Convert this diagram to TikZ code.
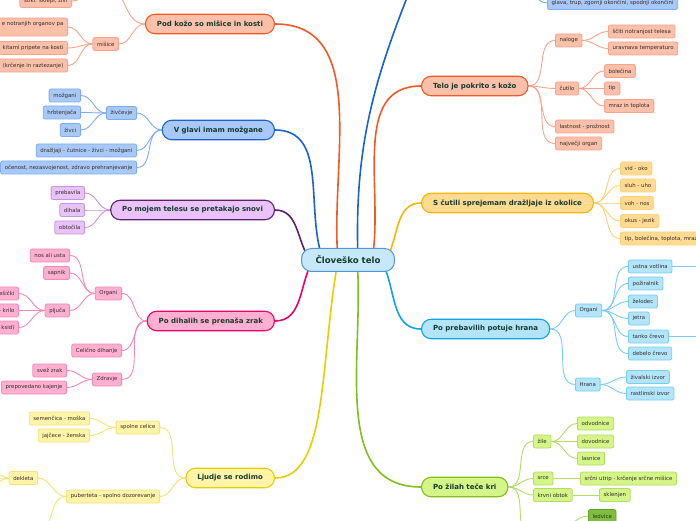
\documentclass[tikz,border=0pt]{standalone}
\usepackage{fontspec}
\setmainfont{DejaVu Sans}
\usepackage{tikz}
\usetikzlibrary{calc}
\pgfdeclarelayer{bg}
\pgfsetlayers{bg,main}
\definecolor{hubfill}{RGB}{198,232,250}
\definecolor{hubline}{RGB}{80,150,210}
\definecolor{txtdark}{RGB}{22,58,45}
\definecolor{txtgray}{RGB}{52,44,40}
\definecolor{orA}{RGB}{241,90,36}
\definecolor{orB}{RGB}{250,192,170}
\definecolor{orC}{RGB}{246,165,140}
\definecolor{blA}{RGB}{26,98,212}
\definecolor{blB}{RGB}{168,201,247}
\definecolor{blC}{RGB}{125,173,240}
\definecolor{puA}{RGB}{96,30,112}
\definecolor{puB}{RGB}{232,194,248}
\definecolor{puC}{RGB}{196,150,218}
\definecolor{pkA}{RGB}{236,0,104}
\definecolor{pkB}{RGB}{255,176,208}
\definecolor{pkC}{RGB}{245,135,185}
\definecolor{yeA}{RGB}{232,206,0}
\definecolor{yeB}{RGB}{255,244,168}
\definecolor{yeC}{RGB}{244,226,120}
\definecolor{amA}{RGB}{248,182,0}
\definecolor{amB}{RGB}{255,218,145}
\definecolor{amC}{RGB}{255,208,120}
\definecolor{cyA}{RGB}{18,162,230}
\definecolor{cyB}{RGB}{178,229,250}
\definecolor{cyC}{RGB}{120,205,244}
\definecolor{grA}{RGB}{130,190,30}
\definecolor{grB}{RGB}{212,245,135}
\definecolor{grC}{RGB}{180,220,100}
\definecolor{grD}{RGB}{125,190,60}
\definecolor{grE}{RGB}{100,165,40}

\begin{document}
\begin{tikzpicture}[
    x = 1pt, y = 1pt,
    hub/.style = {draw = hubline, fill = hubfill, line width = 1pt, rounded corners = 10pt, minimum height = 23pt, inner xsep = 14pt, text = txtdark, font = \bfseries\fontsize{8.6}{10}\selectfont},
    topic/.style = {draw = #1A, fill = #1B, line width = 1.1pt, rounded corners = 9.5pt, minimum height = 19.5pt, inner xsep = 11.5pt, text = txtdark, font = \bfseries\fontsize{7}{8}\selectfont},
    leaf/.style = {draw = #1C, fill = #1B, line width = 0.8pt, rounded corners = 2pt, minimum height = 13pt, inner xsep = 4.2pt, inner ysep = 1pt, text = txtgray, font = \fontsize{5.4}{6.5}\selectfont},
    trunk/.style = {draw = #1A, line width = 1.6pt},
    twig/.style = {draw = #1C, line width = 0.9pt},
]
\useasboundingbox (0,0) rectangle (696,520);
\clip (0,0) rectangle (696,520);

% center and main topics
\node[hub] (telo) at (348,260) {Človeško telo};
\node[topic=or, anchor=east] (podkozo) at (275,496) {Pod kožo so mišice in kosti};
\node[topic=bl, anchor=east] (glava) at (275,390) {V glavi imam možgane};
\node[topic=pu, anchor=east] (snovi) at (275,310) {Po mojem telesu se pretakajo snovi};
\node[topic=pk, anchor=east] (dihala) at (275,199) {Po dihalih se prenaša zrak};
\node[topic=ye, anchor=east] (rodimo) at (275,42) {Ljudje se rodimo};
\node[topic=or, anchor=west] (koza) at (421,434) {Telo je pokrito s kožo};
\node[topic=am, anchor=west] (cutila) at (421,317) {S čutili sprejemam dražljaje iz okolice};
\node[topic=cy, anchor=west] (prebava) at (421,191) {Po prebavilih potuje hrana};
\node[topic=gr, anchor=west] (kri) at (421,33) {Po žilah teče kri};
\coordinate (telesa) at (416,545);

% Pod kozo
\coordinate (kosti) at (104,536);
\node[leaf=or, anchor=east] (stiki) at (72,519) {stiki: sklepi, živi};
\node[leaf=or, anchor=east] (misice) at (119,476) {mišice};
\node[leaf=or, anchor=east, align=center, minimum height=18pt] (varuje) at (68,493) {e notranjih organov pa\\\mbox{}};
\node[leaf=or, anchor=east] (kite) at (68,472) {kitami pripete na kosti};
\node[leaf=or, anchor=east] (krcenje) at (68,454.5) {(krčenje in raztezanje)};

% V glavi
\node[leaf=bl, anchor=east] (zivcevje) at (137,407) {živčevje};
\node[leaf=bl, anchor=east] (drazljaji) at (137,369.5) {dražljaji - čutnice - živci - možgani};
\node[leaf=bl, anchor=east] (zdravo) at (137,352.5) {očenost, nezasvojenost, zdravo prehranjevanje};
\node[leaf=bl, anchor=east] (mozgani) at (81,424.5) {možgani};
\node[leaf=bl, anchor=east] (hrbtenjaca) at (81,407.5) {hrbtenjača};
\node[leaf=bl, anchor=east] (zivci) at (81,390) {živci};

% snovi
\node[leaf=pu, anchor=east] (prebavila) at (85,327) {prebavila};
\node[leaf=pu, anchor=east] (dihalaS) at (85,310) {dihala};
\node[leaf=pu, anchor=east] (obtocila) at (85,292.5) {obtočila};

% dihala
\node[leaf=pk, anchor=east] (organiD) at (122,226.5) {Organi};
\node[leaf=pk, anchor=east] (celicno) at (122,169.5) {Celično dihanje};
\node[leaf=pk, anchor=east] (zdravje) at (122,140.5) {Zdravje};
\node[leaf=pk, anchor=east] (nos) at (70,264.5) {nos ali usta};
\node[leaf=pk, anchor=east] (sapnik) at (70,247) {sapnik};
\node[leaf=pk, anchor=east] (pljuca) at (70,209.5) {pljuča};
\node[leaf=pk, anchor=east] (mehurcki) at (19,226.5) {ešički};
\node[leaf=pk, anchor=east] (krilo) at (19,209.5) {- krilo};
\node[leaf=pk, anchor=east] (dioksid) at (19,192.5) {ksid)};
\node[leaf=pk, anchor=east] (svez) at (67,149.5) {svež zrak};
\node[leaf=pk, anchor=east] (kajenje) at (67,132.5) {prepovedano kajenje};

% rodimo
\node[leaf=ye, anchor=east] (spolne) at (160,92.5) {spolne celice};
\node[leaf=ye, anchor=east] (puberteta) at (160,23.5) {puberteta - spolno dozorevanje};
\node[leaf=ye, anchor=east] (semencica) at (90,101.5) {semenčica - moška};
\node[leaf=ye, anchor=east] (jajcece) at (90,84.5) {jajčece - ženska};
\node[leaf=ye, anchor=east] (dekleta) at (38,42) {dekleta};
\coordinate (fantje) at (36,-14);
\coordinate (dek1) at (-6,47);
\coordinate (dek2) at (-6,42);
\coordinate (dek3) at (-6,37);

% koza
\node[leaf=or, anchor=west] (naloge) at (555,479.5) {naloge};
\node[leaf=or, anchor=west] (cutilo) at (555,431.5) {čutilo};
\node[leaf=or, anchor=west] (lastnost) at (555,393.5) {lastnost - prožnost};
\node[leaf=or, anchor=west] (najvecji) at (555,376.5) {največji organ};
\node[leaf=or, anchor=west] (sciti) at (608,488.5) {ščiti notranjost telesa};
\node[leaf=or, anchor=west] (uravnava) at (608,471.5) {uravnava temperaturo};
\node[leaf=or, anchor=west] (bolecina) at (604,449) {bolečina};
\node[leaf=or, anchor=west] (tip) at (604,431.5) {tip};
\node[leaf=or, anchor=west] (mraz) at (604,414) {mraz in toplota};

% top blue branch
\coordinate (deli) at (522,532);
\node[leaf=bl, anchor=west] (okoncine) at (547,517) {glava, trup, zgornji okončini, spodnji okončini};

% cutila
\node[leaf=am, anchor=west] (vid) at (620,351.5) {vid - oko};
\node[leaf=am, anchor=west] (sluh) at (620,334.5) {sluh - uho};
\node[leaf=am, anchor=west] (voh) at (620,317) {voh - nos};
\node[leaf=am, anchor=west] (okus) at (620,299) {okus - jezik};
\node[leaf=am, anchor=west] (otip) at (620,281.5) {tip, bolečina, toplota, mraz};

% prebava
\node[leaf=cy, anchor=west] (organiP) at (575,209.5) {Organi};
\node[leaf=cy, anchor=west] (hrana) at (575,135.5) {Hrana};
\node[leaf=cy, anchor=west] (ustna) at (628,253.5) {ustna votlina};
\node[leaf=cy, anchor=west] (poziralnik) at (628,236.5) {požiralnik};
\node[leaf=cy, anchor=west] (zelodec) at (628,218.5) {želodec};
\node[leaf=cy, anchor=west] (jetra) at (628,201.5) {jetra};
\node[leaf=cy, anchor=west] (tanko) at (628,183.5) {tanko črevo};
\node[leaf=cy, anchor=west] (debelo) at (628,166.5) {debelo črevo};
\node[leaf=cy, anchor=west] (zivalski) at (626,143) {živalski izvor};
\node[leaf=cy, anchor=west] (rastlinski) at (626,126.5) {rastlinski izvor};
\coordinate (zobje) at (702,253.5);
\coordinate (resice) at (702,183.5);

% kri
\node[leaf=gr, anchor=west] (zile) at (533,78.5) {žile};
\node[leaf=gr, anchor=west] (srce) at (533,41.5) {srce};
\node[leaf=gr, anchor=west] (krvni) at (533,25) {krvni obtok};
\node[leaf=gr, anchor=west] (odvodnice) at (577,96.5) {odvodnice};
\node[leaf=gr, anchor=west] (dovodnice) at (577,78.5) {dovodnice};
\node[leaf=gr, anchor=west] (lasnice) at (577,61.5) {lasnice};
\node[leaf=gr, anchor=west] (utrip) at (580,41.5) {srčni utrip - krčenje srčne mišice};
\node[leaf=gr, anchor=west] (sklenjen) at (599,25) {sklenjen};
\node[leaf=gr, anchor=west, fill=grD, draw=grE] (ledvice) at (588,4) {ledvice};
\coordinate (izlocala) at (532,-16);
\coordinate (ledviceP) at (560,-8);

\begin{pgfonlayer}{bg}
\fill[white] (0,0) rectangle (696,520);
% trunks
\draw[trunk=or] ([xshift=-10pt]telo.center) to[out=95,in=0] (podkozo.east);
\draw[trunk=bl] ([xshift=-25pt]telo.center) to[out=110,in=0] (glava.east);
\draw[trunk=pu] ([xshift=-38pt]telo.center) to[out=125,in=0] (snovi.east);
\draw[trunk=pk] ([xshift=-35pt]telo.center) to[out=-120,in=0] (dihala.east);
\draw[trunk=ye] ([xshift=-10pt]telo.center) to[out=-100,in=0,out looseness=1.2,in looseness=0.6] (rodimo.east);
\draw[trunk=bl] ([xshift=10pt]telo.center) to[out=92,in=-112] (telesa);
\draw[trunk=or] ([xshift=24pt]telo.center) to[out=80,in=180] (koza.west);
\draw[trunk=am] ([xshift=38pt]telo.center) to[out=60,in=180] (cutila.west);
\draw[trunk=cy] ([xshift=33pt]telo.center) to[out=-60,in=180] (prebava.west);
\draw[trunk=gr] ([xshift=9pt]telo.center) to[out=-85,in=180] (kri.west);

% twigs, left side
\foreach \n in {kosti, misice.east}
    \draw[twig=or] (podkozo.west) to[out=180,in=0] (\n);
\draw[twig=or] (kosti) to[out=180,in=0] (stiki.east);
\foreach \n in {varuje, kite, krcenje}
    \draw[twig=or] (misice.west) to[out=180,in=0] (\n.east);
\foreach \n in {zivcevje, drazljaji, zdravo}
    \draw[twig=bl] (glava.west) to[out=180,in=0] (\n.east);
\foreach \n in {mozgani, hrbtenjaca, zivci}
    \draw[twig=bl] (zivcevje.west) to[out=180,in=0] (\n.east);
\foreach \n in {prebavila, dihalaS, obtocila}
    \draw[twig=pu] (snovi.west) to[out=180,in=0] (\n.east);
\foreach \n in {organiD, celicno, zdravje}
    \draw[twig=pk] (dihala.west) to[out=180,in=0] (\n.east);
\foreach \n in {nos, sapnik, pljuca}
    \draw[twig=pk] (organiD.west) to[out=180,in=0] (\n.east);
\foreach \n in {mehurcki, krilo, dioksid}
    \draw[twig=pk] (pljuca.west) to[out=180,in=0] (\n.east);
\foreach \n in {svez, kajenje}
    \draw[twig=pk] (zdravje.west) to[out=180,in=0] (\n.east);
\foreach \n in {spolne, puberteta}
    \draw[twig=ye] (rodimo.west) to[out=180,in=0] (\n.east);
\foreach \n in {semencica, jajcece}
    \draw[twig=ye] (spolne.west) to[out=180,in=0] (\n.east);
\draw[twig=ye] (puberteta.west) to[out=180,in=0] (dekleta.east);
\draw[twig=ye] (puberteta.west) to[out=180,in=0] (fantje);
\foreach \n in {dek1, dek2, dek3}
    \draw[twig=ye] (dekleta.west) to[out=180,in=0] (\n);

% twigs, right side
\foreach \n in {naloge, cutilo, lastnost, najvecji}
    \draw[twig=or] (koza.east) to[out=0,in=180] (\n.west);
\foreach \n in {sciti, uravnava}
    \draw[twig=or] (naloge.east) to[out=0,in=180] (\n.west);
\foreach \n in {bolecina, tip, mraz}
    \draw[twig=or] (cutilo.east) to[out=0,in=180] (\n.west);
\draw[twig=bl] (deli) to[out=0,in=180] (okoncine.west);
\foreach \n in {vid, sluh, voh, okus, otip}
    \draw[twig=am] (cutila.east) to[out=0,in=180] (\n.west);
\foreach \n in {organiP, hrana}
    \draw[twig=cy] (prebava.east) to[out=0,in=180] (\n.west);
\foreach \n in {ustna, poziralnik, zelodec, jetra, tanko, debelo}
    \draw[twig=cy] (organiP.east) to[out=0,in=180] (\n.west);
\foreach \n in {zivalski, rastlinski}
    \draw[twig=cy] (hrana.east) to[out=0,in=180] (\n.west);
\draw[twig=cy] (ustna.east) -- (zobje);
\draw[twig=cy] (tanko.east) -- (resice);
\foreach \n in {zile.west, srce.west, krvni.west, izlocala}
    \draw[twig=gr] (kri.east) to[out=0,in=180] (\n);
\foreach \n in {odvodnice, dovodnice, lasnice}
    \draw[twig=gr] (zile.east) to[out=0,in=180] (\n.west);
\draw[twig=gr] (srce.east) -- (utrip.west);
\draw[twig=gr] (krvni.east) -- (sklenjen.west);
\draw[twig=gr] (ledviceP) to[out=0,in=180] (ledvice.west);
\end{pgfonlayer}
\end{tikzpicture}
\end{document}
